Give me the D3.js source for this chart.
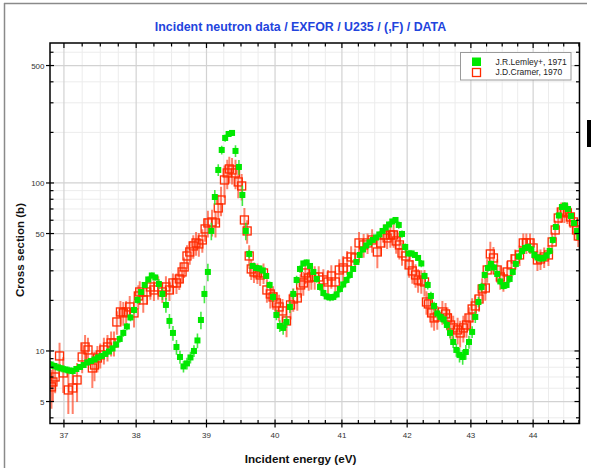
<!DOCTYPE html>
<html>
<head>
<meta charset="utf-8">
<script src="https://cdn.jsdelivr.net/npm/d3@7"></script>
<style>
  body { margin: 0; background: #fff; }
  svg { display: block; }
  text { font-family: "Liberation Sans", Arial, sans-serif; }
</style>
</head>
<body>
<svg id="chart" width="591" height="468"></svg>
<script>
// U-235 fission cross section, 36.8 - 44.8 eV (EXFOR)

// J.R.Lemley+, 1971
const lemleyE = [
  36.82, 36.87, 36.92, 36.97, 37.02, 37.07, 37.12, 37.17, 37.22, 37.27,
  37.32, 37.37, 37.42, 37.47, 37.52, 37.57, 37.62, 37.67, 37.72, 37.77,
  37.82, 37.87, 37.92, 37.97, 38.02, 38.07, 38.12, 38.17, 38.22, 38.27,
  38.32, 38.37, 38.42, 38.47, 38.52, 38.57, 38.62, 38.67, 38.72, 38.77,
  38.82, 38.87, 38.92, 38.97, 39.02, 39.07, 39.12, 39.17, 39.22, 39.27,
  39.32, 39.37, 39.42, 39.47, 39.52, 39.57, 39.62, 39.67, 39.72, 39.77,
  39.82, 39.87, 39.92, 39.97, 40.02, 40.07, 40.12, 40.17, 40.22, 40.27,
  40.32, 40.37, 40.42, 40.47, 40.52, 40.57, 40.62, 40.67, 40.72, 40.77,
  40.82, 40.87, 40.92, 40.97, 41.02, 41.07, 41.12, 41.17, 41.22, 41.27,
  41.32, 41.37, 41.42, 41.47, 41.52, 41.57, 41.62, 41.67, 41.72, 41.77,
  41.82, 41.87, 41.92, 41.97, 42.02, 42.07, 42.12, 42.17, 42.22, 42.27,
  42.32, 42.37, 42.42, 42.47, 42.52, 42.57, 42.62, 42.67, 42.72, 42.77,
  42.82, 42.87, 42.92, 42.97, 43.02, 43.07, 43.12, 43.17, 43.22, 43.27,
  43.32, 43.37, 43.42, 43.47, 43.52, 43.57, 43.62, 43.67, 43.72, 43.77,
  43.82, 43.87, 43.92, 43.97, 44.02, 44.07, 44.12, 44.17, 44.22, 44.27,
  44.32, 44.37, 44.42, 44.47, 44.52, 44.57, 44.62, 44.67, 44.72, 44.76
];
const lemleySigma = [
  8.31, 8.14, 7.98, 7.87, 7.76, 7.66, 7.60, 7.81, 8.03, 8.25,
  8.54, 8.72, 8.90, 9.15, 9.34, 9.60, 9.93, 10.35, 10.93, 11.79,
  12.80, 13.99, 15.83, 17.54, 20.12, 22.45, 24.71, 26.65, 28.14, 27.38,
  25.05, 21.84, 18.79, 15.09, 12.80, 10.56, 9.21, 8.09, 8.43, 9.15,
  10.0, 11.55, 15.29, 21.84, 29.53, 51.8, 82.5, 119.5, 157.2, 185.3,
  195.7, 198.5, 155.1, 124.5, 84.8, 51.8, 37.8, 32.06, 31.19, 30.98,
  30.14, 27.95, 24.71, 20.96, 16.38, 14.09, 13.71, 14.88, 18.28, 21.84,
  26.46, 30.77, 33.18, 33.64, 32.06, 29.53, 26.83, 24.04, 22.14, 21.10,
  20.82, 20.96, 21.70, 23.39, 24.88, 26.46, 28.34, 30.77, 33.87, 37.28,
  40.20, 42.46, 44.24, 45.79, 47.38, 49.38, 51.8, 54.35, 56.62, 58.99,
  60.22, 56.23, 49.71, 41.59, 38.06, 38.06, 37.28, 35.78, 33.18, 27.95,
  24.71, 21.25, 18.53, 16.72, 15.94, 15.40, 14.28, 12.80, 11.31, 10.14,
  9.47, 9.21, 9.86, 11.31, 12.98, 15.94, 19.57, 24.04, 28.34, 31.19,
  32.96, 31.41, 28.73, 25.93, 24.37, 24.71, 26.83, 29.53, 32.96, 36.52,
  39.38, 41.03, 41.59, 40.20, 37.28, 36.02, 35.53, 35.78, 37.03, 39.38,
  45.79, 54.72, 64.05, 71.95, 73.47, 70.01, 63.62, 57.81, 51.8, 47.71
];
// uncertainty, percent of the cross section
const lemleyErrPct = [
  5, 5, 5, 5, 5, 5, 5, 4, 4, 4, 4, 4, 4, 4, 4, 4, 4, 4, 4,
  5, 5, 5, 5, 5, 5, 4, 4, 4, 4, 4,
  7, 8, 10, 10, 10, 10, 9,
  8, 8, 8, 8,
  10, 12, 12, 12, 12, 10,
  8, 6, 5, 4, 4,
  8, 10, 14, 12,
  6, 4, 4, 4, 4, 4, 5, 6, 7,
  8, 9, 8,
  8, 7, 6, 5,
  4, 4, 4, 4, 5, 5, 5, 5, 5, 5, 5, 5, 5, 5, 5, 4, 4, 4, 4, 4, 4, 4, 4, 4, 4, 4, 4, 4, 4, 5, 5, 5,
  4, 4, 4, 4, 5, 5, 6, 6, 6, 6, 6, 6, 6, 7,
  8, 9, 10, 10, 10, 9, 8,
  8, 7, 6,
  5, 5, 5, 5, 5, 5, 5, 5, 5, 5, 5, 5, 5, 5, 5, 5, 5, 5, 5, 5, 5, 5, 5, 4, 4, 4, 4, 4, 4, 4, 4, 4
];

// J.D.Cramer, 1970
const cramerE = [
  36.83, 36.85, 36.88, 36.94, 36.99, 37.06, 37.12, 37.18, 37.25, 37.29,
  37.33, 37.39, 37.42, 37.46, 37.50, 37.55, 37.60, 37.65, 37.69, 37.73,
  37.78, 37.82, 37.86, 37.91, 37.97, 38.03, 38.05, 38.10, 38.15, 38.20,
  38.25, 38.31, 38.37, 38.42, 38.47, 38.52, 38.57, 38.61, 38.65, 38.68,
  38.72, 38.76, 38.81, 38.85, 38.89, 38.94, 38.98, 39.02, 39.08, 39.13,
  39.17, 39.21, 39.26, 39.30, 39.33, 39.37, 39.42, 39.46, 39.51, 39.55,
  39.59, 39.62, 39.65, 39.69, 39.74, 39.78, 39.83, 39.88, 39.93, 39.97,
  40.02, 40.06, 40.11, 40.17, 40.23, 40.27, 40.33, 40.38, 40.42, 40.45,
  40.50, 40.54, 40.59, 40.65, 40.72, 40.79, 40.84, 40.90, 40.96, 41.02,
  41.08, 41.14, 41.20, 41.26, 41.33, 41.39, 41.46, 41.54, 41.59, 41.65,
  41.69, 41.74, 41.79, 41.83, 41.88, 41.92, 41.98, 42.03, 42.08, 42.13,
  42.17, 42.22, 42.27, 42.30, 42.33, 42.38, 42.42, 42.47, 42.55, 42.60,
  42.63, 42.68, 42.72, 42.79, 42.83, 42.88, 42.93, 42.97, 43.02, 43.07,
  43.13, 43.18, 43.23, 43.26, 43.31, 43.36, 43.42, 43.47, 43.52, 43.58,
  43.65, 43.71, 43.78, 43.84, 43.89, 43.95, 44.00, 44.07, 44.12, 44.18,
  44.25, 44.31, 44.36, 44.41, 44.46, 44.51, 44.56, 44.61, 44.66, 44.71,
  44.74
];
const cramerSigma = [
  6.11, 6.54, 7.00, 9.34, 7.40, 5.86, 6.02, 6.72, 9.21, 10.56,
  10.14, 7.92, 8.25, 9.08, 9.47, 10.14, 10.56, 11.16, 11.16, 14.88,
  17.07, 16.84, 17.07, 18.28, 16.84, 21.25, 22.45, 20.12, 22.45, 24.04,
  23.07, 24.04, 22.45, 24.04, 23.07, 25.40, 25.40, 26.83, 29.53, 31.62,
  36.77, 38.84, 42.17, 43.95, 43.35, 45.79, 53.24, 57.81, 58.61, 57.81,
  71.0, 79.2, 104.2, 114.7, 121.2, 119.5, 114.7, 101.4, 95.96, 60.22,
  51.8, 36.77, 30.77, 29.53, 29.13, 28.34, 29.13, 23.07, 21.84, 20.96,
  19.31, 18.28, 17.30, 15.09, 18.79, 20.39, 20.68, 24.71, 25.40, 29.13,
  27.2, 27.57, 27.57, 27.57, 26.46, 25.74, 27.95, 25.74, 30.35, 31.19,
  33.87, 36.27, 35.78, 43.95, 42.76, 43.95, 45.79, 38.84, 43.95, 49.03,
  47.06, 49.03, 49.03, 45.16, 42.76, 38.31, 36.77, 32.51, 29.94, 28.34,
  26.46, 26.10, 25.74, 19.57, 19.05, 16.84, 15.72, 15.94, 17.07, 16.61,
  15.72, 14.28, 13.71, 13.34, 12.80, 13.71, 14.28, 15.72, 17.78, 18.53,
  20.39, 23.39, 23.71, 30.35, 37.80, 35.78, 30.35, 27.57, 26.83, 29.53,
  32.51, 35.29, 37.28, 43.95, 43.95, 43.95, 41.03, 34.81, 35.29, 36.27,
  37.28, 44.55, 52.51, 61.89, 67.20, 67.20, 66.28, 62.75, 58.61, 52.51,
  48.36
];
const cramerErrPct = [
  26, 24, 20, 20, 24, 28, 30, 26, 20, 18, 18, 24, 20, 18, 17, 18, 18, 17, 17,
  16, 16, 16, 16, 16, 18, 16, 16, 16, 16, 16, 14, 16, 14, 16, 14, 14, 14, 14,
  14, 14, 16, 16, 16, 16, 16, 16, 16, 18, 18, 18, 20, 20, 22, 20, 18, 18, 20, 20, 18,
  18, 16, 16, 14, 14, 14, 14, 14, 16, 18, 16, 16, 18, 18, 20, 18, 16, 16,
  16, 16, 14, 16, 16, 16, 16, 16, 18, 16, 16, 16, 18, 16, 16, 14, 16, 16, 14, 16, 20, 16, 16, 14, 16, 16, 16, 18, 16, 16,
  16, 16, 16, 16, 16, 18, 16, 16, 18, 16, 16, 16, 16, 16, 18, 18, 18, 18, 18, 16, 16, 16, 16, 16, 16, 16,
  16, 18, 16, 16, 16, 16, 16, 16, 14, 14, 14, 14, 14, 14, 14, 14, 14, 14, 14, 14, 14, 14, 14, 14, 14, 14, 14, 14
];

// axis labels
const xTickLabels = [37, 38, 39, 40, 41, 42, 43, 44];
const yTickLabels = [5, 10, 50, 100, 500];

const seriesNames = ["J.R.Lemley+, 1971", "J.D.Cramer, 1970"];
const titleText = "Incident neutron data / EXFOR / U235 / (,F) / DATA";
const xTitle = "Incident energy (eV)";
const yTitle = "Cross section (b)";

// ---------------------------------------------------------------
const svg = d3.select("#chart");
const plot = { left: 50, right: 579.5, top: 43, bottom: 423.5 };

const x = d3.scaleLog().domain([36.81, 44.76]).range([plot.left, plot.right]);
const y = d3.scaleLog().domain([3.70, 681]).range([plot.bottom, plot.top]);

const GREEN = "#00e800";
const RED = "#ff2a00";

svg.append("rect").attr("width", 591).attr("height", 468).attr("fill", "#fff");

// page frame
svg.append("line").attr("x1", 4).attr("x2", 587).attr("y1", 3.5).attr("y2", 3.5)
  .attr("stroke", "#8a8a8a").attr("stroke-width", 1.5);
svg.append("line").attr("x1", 4.5).attr("x2", 4.5).attr("y1", 3).attr("y2", 468)
  .attr("stroke", "#8a8a8a").attr("stroke-width", 1.5);
svg.append("rect").attr("x", 587).attr("y", 120).attr("width", 4).attr("height", 27).attr("fill", "#000");

// title
svg.append("text").attr("x", 300.5).attr("y", 31).attr("text-anchor", "middle")
  .attr("font-size", 12.4).attr("font-weight", "bold").attr("fill", "#2244dd")
  .text(titleText);

// tick positions
const xMajor = xTickLabels;
const xMinor = d3.range(36.75, 44.8, 0.25)
  .filter(v => v > x.domain()[0] && v < x.domain()[1] && Math.abs(v - Math.round(v)) > 1e-6);
const yAll = [];
[1, 10, 100].forEach(dec => d3.range(1, 10).forEach(k => yAll.push(k * dec)));
const yMinor = yAll.filter(v => v > y.domain()[0] && v < y.domain()[1] && !yTickLabels.includes(v));

// grid
const grid = svg.append("g");
grid.selectAll(".gxm").data(xMinor).join("line")
  .attr("x1", d => x(d)).attr("x2", d => x(d)).attr("y1", plot.top).attr("y2", plot.bottom)
  .attr("stroke", "#ececec").attr("stroke-width", 1);
grid.selectAll(".gym").data(yMinor).join("line")
  .attr("x1", plot.left).attr("x2", plot.right).attr("y1", d => y(d)).attr("y2", d => y(d))
  .attr("stroke", "#ececec").attr("stroke-width", 1);
grid.selectAll(".gxM").data(xMajor).join("line")
  .attr("x1", d => x(d)).attr("x2", d => x(d)).attr("y1", plot.top).attr("y2", plot.bottom)
  .attr("stroke", "#d2d2d2").attr("stroke-width", 1.2);
grid.selectAll(".gyM").data(yTickLabels).join("line")
  .attr("x1", plot.left).attr("x2", plot.right).attr("y1", d => y(d)).attr("y2", d => y(d))
  .attr("stroke", "#d2d2d2").attr("stroke-width", 1.2);

// data layer, clipped to the plot frame
svg.append("clipPath").attr("id", "clip").append("rect")
  .attr("x", plot.left).attr("y", plot.top)
  .attr("width", plot.right - plot.left).attr("height", plot.bottom - plot.top);
const dataG = svg.append("g").attr("clip-path", "url(#clip)");

const cramer = cramerE.map((e, i) => ({ e, s: cramerSigma[i], d: cramerSigma[i] * cramerErrPct[i] / 100 }));
const lemley = lemleyE.map((e, i) => ({ e, s: lemleySigma[i], d: lemleySigma[i] * lemleyErrPct[i] / 100 }));

// Cramer: open squares with error bars
dataG.append("g").selectAll("line").data(cramer).join("line")
  .attr("x1", d => x(d.e)).attr("x2", d => x(d.e))
  .attr("y1", d => y(d.s - d.d)).attr("y2", d => y(d.s + d.d))
  .attr("stroke", "#ff4a2a").attr("stroke-opacity", 0.7).attr("stroke-width", 2);
dataG.append("g").selectAll("rect").data(cramer).join("rect")
  .attr("x", d => x(d.e) - 4).attr("y", d => y(d.s) - 4)
  .attr("width", 8).attr("height", 8)
  .attr("fill", "none").attr("stroke", RED).attr("stroke-width", 1.3);

// Lemley: filled squares with error bars
dataG.append("g").selectAll("line").data(lemley).join("line")
  .attr("x1", d => x(d.e)).attr("x2", d => x(d.e))
  .attr("y1", d => y(d.s - d.d)).attr("y2", d => y(d.s + d.d))
  .attr("stroke", "#22e622").attr("stroke-opacity", 0.85).attr("stroke-width", 1.6);
dataG.append("g").selectAll("rect").data(lemley).join("rect")
  .attr("x", d => x(d.e) - 3).attr("y", d => y(d.s) - 3)
  .attr("width", 6).attr("height", 6)
  .attr("fill", GREEN);

// frame
svg.append("rect").attr("x", plot.left).attr("y", plot.top)
  .attr("width", plot.right - plot.left).attr("height", plot.bottom - plot.top)
  .attr("fill", "none").attr("stroke", "#000").attr("stroke-width", 1.5);

// ticks on all four sides
const tk = svg.append("g").attr("stroke", "#000").attr("stroke-width", 1.2);
// bottom
tk.selectAll(".bM").data(xMajor).join("line")
  .attr("x1", d => x(d)).attr("x2", d => x(d)).attr("y1", plot.bottom - 4).attr("y2", plot.bottom + 4);
tk.selectAll(".bm").data(xMinor).join("line")
  .attr("x1", d => x(d)).attr("x2", d => x(d)).attr("y1", plot.bottom - 3.5).attr("y2", plot.bottom);
// top
tk.selectAll(".tM").data(xMajor).join("line")
  .attr("x1", d => x(d)).attr("x2", d => x(d)).attr("y1", plot.top).attr("y2", plot.top + 5);
tk.selectAll(".tm").data(xMinor).join("line")
  .attr("x1", d => x(d)).attr("x2", d => x(d)).attr("y1", plot.top).attr("y2", plot.top + 3.5);
// left
tk.selectAll(".lM").data(yTickLabels).join("line")
  .attr("x1", plot.left - 4).attr("x2", plot.left + 4).attr("y1", d => y(d)).attr("y2", d => y(d));
tk.selectAll(".lm").data(yMinor).join("line")
  .attr("x1", plot.left).attr("x2", plot.left + 3.5).attr("y1", d => y(d)).attr("y2", d => y(d));
// right
tk.selectAll(".rM").data(yTickLabels).join("line")
  .attr("x1", plot.right - 5).attr("x2", plot.right).attr("y1", d => y(d)).attr("y2", d => y(d));
tk.selectAll(".rm").data(yMinor).join("line")
  .attr("x1", plot.right - 3.5).attr("x2", plot.right).attr("y1", d => y(d)).attr("y2", d => y(d));

// tick labels
svg.append("g").selectAll("text").data(xTickLabels).join("text")
  .attr("x", d => x(d)).attr("y", plot.bottom + 14.5).attr("text-anchor", "middle")
  .attr("font-size", 8).attr("fill", "#333").text(d => d);
svg.append("g").selectAll("text").data(yTickLabels).join("text")
  .attr("x", plot.left - 5.5).attr("y", d => y(d) + 3).attr("text-anchor", "end")
  .attr("font-size", 8).attr("fill", "#333").text(d => d);

// axis titles
svg.append("text").attr("x", 300.5).attr("y", 463).attr("text-anchor", "middle")
  .attr("font-size", 11.7).attr("font-weight", "bold").attr("fill", "#111").text(xTitle);
svg.append("text").attr("transform", "translate(24,250) rotate(-90)").attr("text-anchor", "middle")
  .attr("font-size", 11.5).attr("font-weight", "bold").attr("fill", "#111").text(yTitle);

// legend
const lg = svg.append("g");
lg.append("rect").attr("x", 460.5).attr("y", 52.5).attr("width", 110.5).attr("height", 27.5)
  .attr("fill", "#fff").attr("stroke", "#9a9a9a").attr("stroke-width", 1);
lg.append("rect").attr("x", 472).attr("y", 57.5).attr("width", 9).attr("height", 8.5).attr("fill", GREEN);
lg.append("rect").attr("x", 472.5).attr("y", 68.5).attr("width", 8).attr("height", 8)
  .attr("fill", "none").attr("stroke", RED).attr("stroke-width", 1.3);
lg.selectAll("text.lbl").data(seriesNames).join("text")
  .attr("x", 495.5).attr("y", (d, i) => 64.7 + i * 10)
  .attr("font-size", 8.5).attr("fill", "#222").text(d => d);
</script>
</body>
</html>
